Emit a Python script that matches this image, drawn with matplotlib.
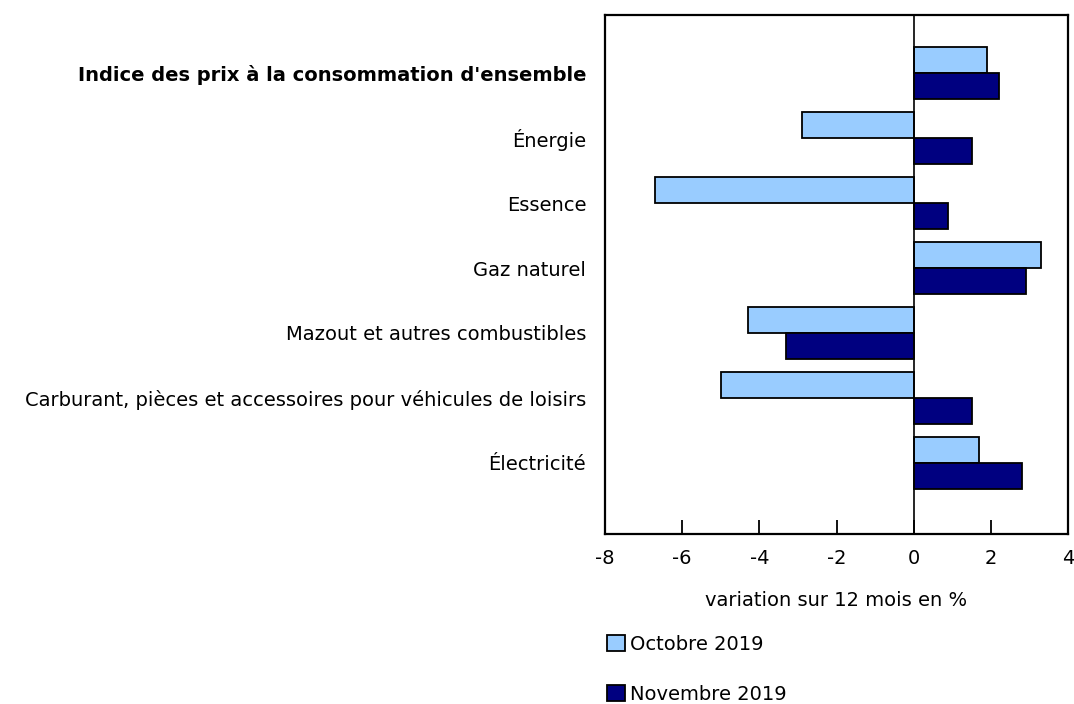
import matplotlib.pyplot as plt
import matplotlib.patches as mpatches
import numpy as np

LIGHT = "#99ccff"
NAVY = "#000080"

categories = ["Indice des prix à la consommation d'ensemble", "Énergie", "Essence",
              "Gaz naturel", "Mazout et autres combustibles",
              "Carburant, pièces et accessoires pour véhicules de loisirs", "Électricité"]
oct_2019 = [1.9, -2.9, -6.7, 3.3, -4.3, -5.0, 1.7]
nov_2019 = [2.2, 1.5, 0.9, 2.9, -3.3, 1.5, 2.8]
series_labels = ["Octobre 2019", "Novembre 2019"]
xticks = [-8, -6, -4, -2, 0, 2, 4]

plt.rcParams['font.family'] = ['DejaVu Sans']
FS = 14

fig = plt.figure(figsize=(10.74, 7.04), dpi=100)
ax = fig.add_axes([605 / 1074, 1 - 534 / 704, 463 / 1074, 519 / 704])

y = np.arange(len(categories))
h = 0.4
ax.barh(y - h / 2, oct_2019, height=h, color=LIGHT, edgecolor="black", lw=1.3, zorder=2)
ax.barh(y + h / 2, nov_2019, height=h, color=NAVY, edgecolor="black", lw=1.3, zorder=2)
ax.axvline(0, color="black", lw=1.2, zorder=3)

ax.set_xlim(-8, 4)
ax.set_ylim(len(categories) - 1 + 1.1, -0.9)
ax.set_xticks(xticks)
ax.set_xticklabels([str(t) for t in xticks], fontsize=FS)
ax.tick_params(axis="x", direction="in", length=10, width=1.3, pad=11)
ax.set_yticks(y)
ax.set_yticklabels(categories, fontsize=FS)
ax.tick_params(axis="y", length=0, pad=13.5)
ax.get_yticklabels()[0].set_fontweight("bold")
for s in ax.spines.values():
    s.set_linewidth(1.6)

ax.set_xlabel("variation sur 12 mois en %", fontsize=FS, labelpad=16)

handles = [mpatches.Patch(fc=LIGHT, ec="black", lw=1.3),
           mpatches.Patch(fc=NAVY, ec="black", lw=1.3)]
fig.legend(handles, series_labels, loc="upper left", bbox_to_anchor=(607 / 1074, 1 - 635 / 704),
           frameon=False, fontsize=FS, handlelength=0.9, handleheight=0.9,
           handletextpad=0.3, labelspacing=1.6, borderaxespad=0, borderpad=0)

fig.savefig("out.png", dpi=100)
